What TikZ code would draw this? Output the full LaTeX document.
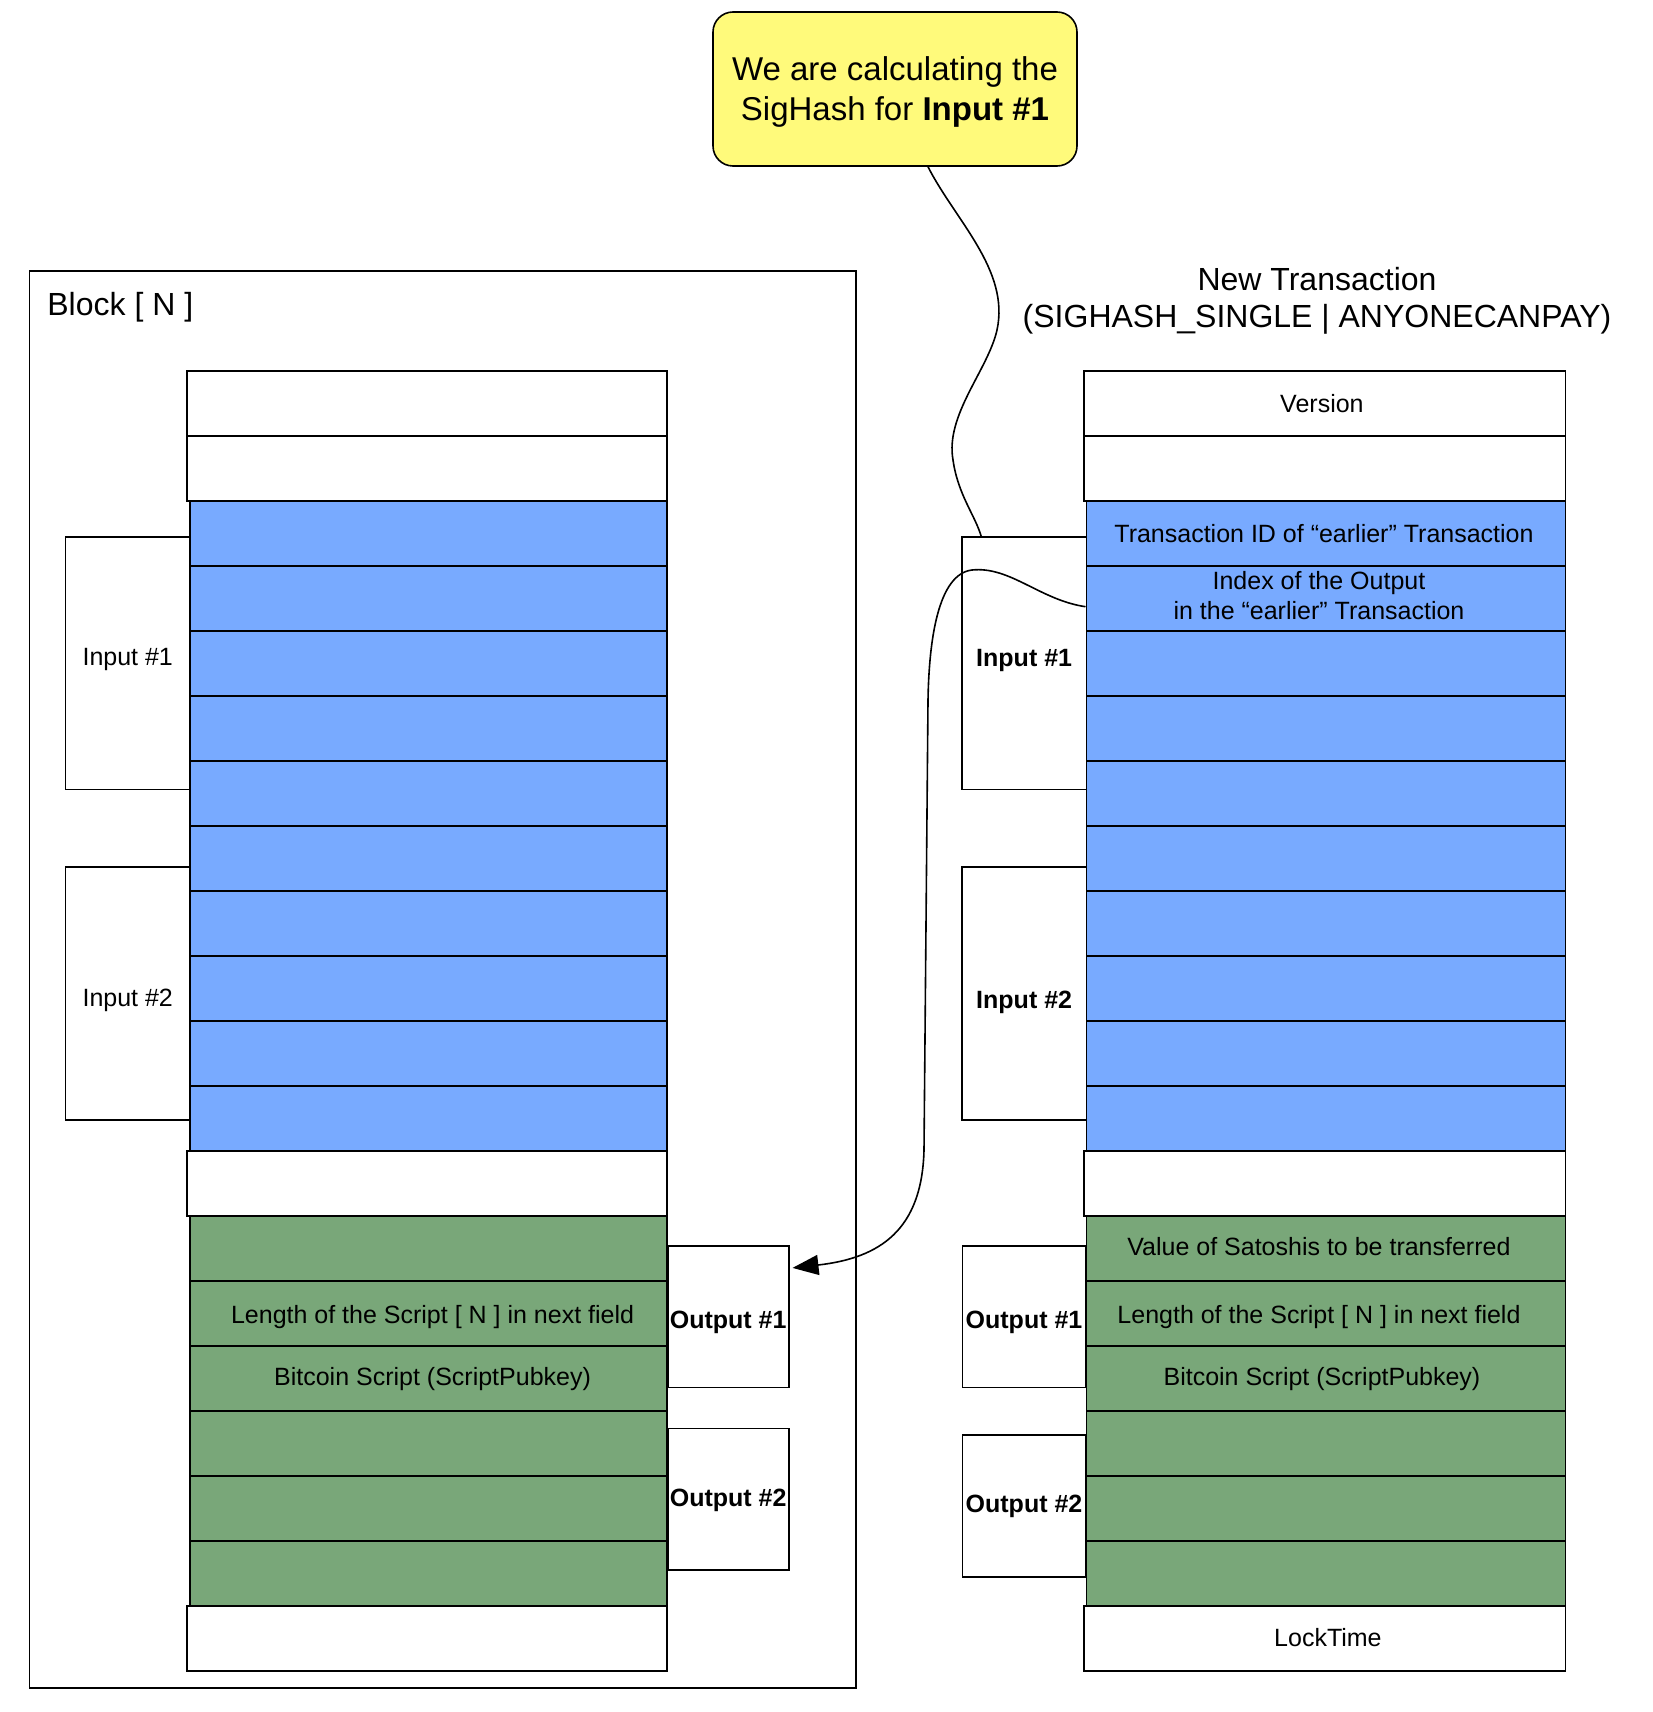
\documentclass[tikz,border=0pt]{standalone}
\usepackage{fontspec}
\setmainfont{Liberation Sans}
\usetikzlibrary{arrows.meta,calc}
\definecolor{fblue}{HTML}{78AAFF}
\definecolor{fgreen}{HTML}{79A779}
\definecolor{fyellow}{HTML}{FFFA7B}
\newcommand{\smallfnt}{\fontsize{12.5}{15}\selectfont}
\newcommand{\bigfnt}{\fontsize{16}{18.5}\selectfont}
\begin{document}
\begin{tikzpicture}[x=0.5pt,y=-0.5pt,
  cell/.style={draw, line width=0.8pt, minimum height=32.5pt, inner sep=0pt},
  lwhite/.style={cell, fill=white, minimum width=240.2pt},
  lcol/.style={cell, minimum width=238.55pt},
  rwhite/.style={cell, fill=white, minimum width=240.7pt},
  rcol/.style={cell, minimum width=239.65pt},
  brk/.style={draw, line width=0.8pt, inner sep=0pt},
  txt/.style={font=\smallfnt, align=center, inner sep=0pt},
  btxt/.style={font=\smallfnt\bfseries, align=center, inner sep=0pt},
  conn/.style={draw, line width=0.8pt}]
\useasboundingbox (0,0) rectangle (1653,1712);

% block frame
\node[draw, line width=0.8pt, minimum width=413.25pt, minimum height=708.6pt, inner sep=0pt] (block) at (442.75,979.4) {};
\node[font=\bigfnt, anchor=west, inner sep=0pt] (blocklbl) at (47,307) {Block [ N ]};

% left stack
\foreach \i in {0,1,12,19} {\node[lwhite] (L\i) at (426.9,{403.7+65*\i}) {};}
\foreach \i in {2,...,11} {\node[lcol, fill=fblue] (L\i) at (428.55,{403.7+65*\i}) {};}
\foreach \i in {13,...,18} {\node[lcol, fill=fgreen] (L\i) at (428.55,{403.7+65*\i}) {};}

% right stack
\foreach \i in {0,1,12,19} {\node[rwhite] (R\i) at (1324.9,{403.7+65*\i}) {};}
\foreach \i in {2,...,11} {\node[rcol, fill=fblue] (R\i) at (1325.95,{403.7+65*\i}) {};}
\foreach \i in {13,...,18} {\node[rcol, fill=fgreen] (R\i) at (1325.95,{403.7+65*\i}) {};}

% row texts
\node[txt] (lt14) at ($(L14)+(4,3)$) {Length of the Script [ N ] in next field};
\node[txt] (lt15) at ($(L15)+(4,0)$) {Bitcoin Script (ScriptPubkey)};
\node[txt] (rt0) at ($(R0)+(-3,0)$) {Version};
\node[txt] (rt2) at ($(R2)+(-2,0)$) {Transaction ID of “earlier” Transaction};
\node[txt] (rt3) at ($(R3)+(-7,-3)$) {Index of the Output\\in the “earlier” Transaction};
\node[txt] (rt13) at ($(R13)+(-7,-2)$) {Value of Satoshis to be transferred};
\node[txt] (rt14) at ($(R14)+(-7,3)$) {Length of the Script [ N ] in next field};
\node[txt] (rt15) at ($(R15)+(-4,0)$) {Bitcoin Script (ScriptPubkey)};
\node[txt] (rt19) at ($(R19)+(3,-1)$) {LockTime};

% brackets left
\node[brk, minimum width=62.25pt, minimum height=126.1pt] (li1) at (127.75,663.3) {};
\node[brk, minimum width=62.25pt, minimum height=126.65pt] (li2) at (127.75,993.55) {};
\node[brk, minimum width=60.5pt, minimum height=70.8pt] (lo1) at (728.2,1316.5) {};
\node[brk, minimum width=60.5pt, minimum height=70.85pt] (lo2) at (728.2,1499.15) {};
\node[txt] (li1t) at ($(li1)+(0,-4)$) {Input \#1};
\node[txt] (li2t) at ($(li2)+(0,7)$) {Input \#2};
\node[btxt] (lo1t) at ($(lo1)+(0,6)$) {Output \#1};
\node[btxt] (lo2t) at ($(lo2)+(0,1)$) {Output \#2};

% brackets right
\node[brk, minimum width=62.15pt, minimum height=126.1pt] (ri1) at (1024.15,663.3) {};
\node[brk, minimum width=62.15pt, minimum height=126.65pt] (ri2) at (1024.15,993.55) {};
\node[brk, minimum width=61.7pt, minimum height=70.8pt] (ro1) at (1024,1316.5) {};
\node[brk, minimum width=61.7pt, minimum height=71pt] (ro2) at (1024,1505.7) {};
\node[btxt] (ri1t) at ($(ri1)+(0,-3)$) {Input \#1};
\node[btxt] (ri2t) at ($(ri2)+(0,9)$) {Input \#2};
\node[btxt] (ro1t) at ($(ro1)+(0,6)$) {Output \#1};
\node[btxt] (ro2t) at ($(ro2)+(0,1)$) {Output \#2};

% title
\node[font=\bigfnt, align=center, inner sep=0pt] (title) at (1317,300.5) {New Transaction\\(SIGHASH\_SINGLE | ANYONECANPAY)};

% yellow note
\node[draw, line width=0.8pt, fill=fyellow, rounded corners=10pt, minimum width=182pt, minimum height=77pt, inner sep=0pt] (note) at (895,89) {};
\node[align=center, inner sep=0pt, font=\fontsize{16.5}{20}\selectfont] (notet) at ($(note)+(0,2.5)$) {We are calculating the\\SigHash for \textbf{Input \#1}};

% connectors
\coordinate (noteEnd) at ($(ri1.north west)+(20,0)$);
\draw[conn] ($(note.south)+(33,0)$) .. controls (955,220) and (1010,270) .. (997,330)
  .. controls (988,370) and (945,415) .. (953,460)
  .. controls (958,495) and (975,515) .. (noteEnd);

\coordinate (arrEnd) at ($(lo1.north east)+(3,23)$);
\draw[conn, -{Triangle[length=13pt,width=10pt]}] ($(R3.west)+(0,8)$) .. controls (1040,600) and (1010,566) .. (972,570)
  .. controls (938,574) and (929,640) .. (928,700) -- (924,1150)
  .. controls (922,1230) and (880,1258) .. (arrEnd);
\end{tikzpicture}
\end{document}
